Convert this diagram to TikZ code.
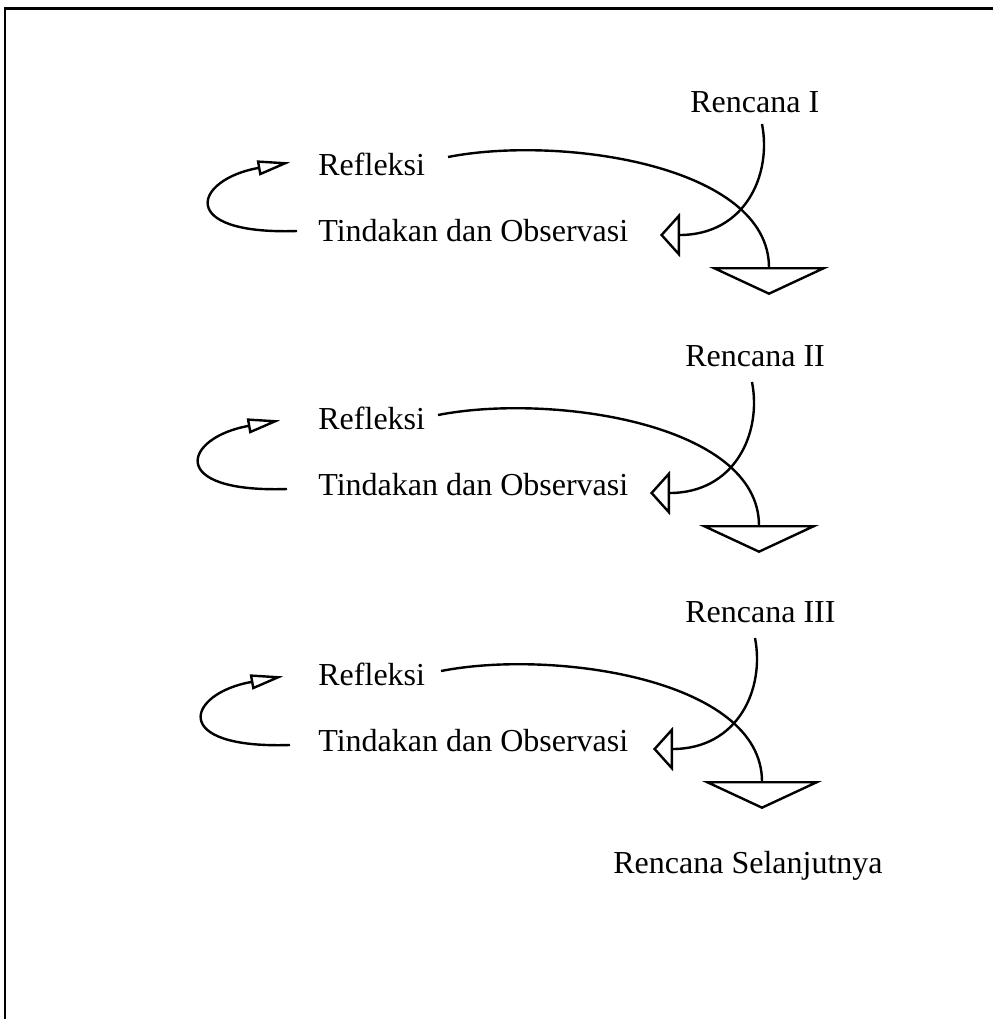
\documentclass[tikz,border=0pt]{standalone}
\usepackage{fontspec}
\setmainfont{Liberation Serif}
\usetikzlibrary{arrows.meta}
\begin{document}
\begin{tikzpicture}[x=0.5pt,y=-0.5pt,
    lbl/.style={anchor=base west,inner sep=0pt,font=\fontsize{16}{19}\selectfont},
    curve/.style={line width=1.2pt},
    loophead/.style={-{Triangle[open,length=16.5pt,width=7.5pt]}},
    planhead/.style={-{Triangle[open,length=10pt,width=22pt]}},
    nexthead/.style={-{Triangle[open,length=14pt,width=60pt]}}]
    \useasboundingbox (0,0) rectangle (993,1019);
    % frame
    \draw[line width=1.2pt] (5,1019)--(5,8.5)--(993,8.5);
    % one cycle per plan
    \foreach \blk/\rom/\dx/\dy/\ty/\rx in {1/I/0/0/0/690,2/II/-10/258/254/685,3/III/-7/514/510/685} {
      \node[lbl] (ren\blk) at (\rx,112+\ty) {Rencana \rom};
      \node[lbl] (ref\blk) at (318,175+\ty) {Refleksi};
      \node[lbl] (tin\blk) at (318,241+\ty) {Tindakan dan Observasi};
      \begin{scope}[shift={(\dx,\dy)}]
        \coordinate (rs\blk) at (762,124); \coordinate (rt\blk) at (660,235);
        \coordinate (fs\blk) at (448,157); \coordinate (ft\blk) at (769,295);
        \coordinate (ls\blk) at (297,231); \coordinate (lt\blk) at (290.5,162.3);
        \draw[curve,planhead] (rs\blk) .. controls (772,175) and (745,235) .. (rt\blk);
        \draw[curve,nexthead] (fs\blk) .. controls (560,135) and (769,165) .. (ft\blk);
        \draw[curve,loophead] (ls\blk) .. controls (175,235) and (194,179.3) .. (lt\blk);
      \end{scope}
    }
    \node[lbl] (next) at (613,873) {Rencana Selanjutnya};
\end{tikzpicture}
\end{document}
